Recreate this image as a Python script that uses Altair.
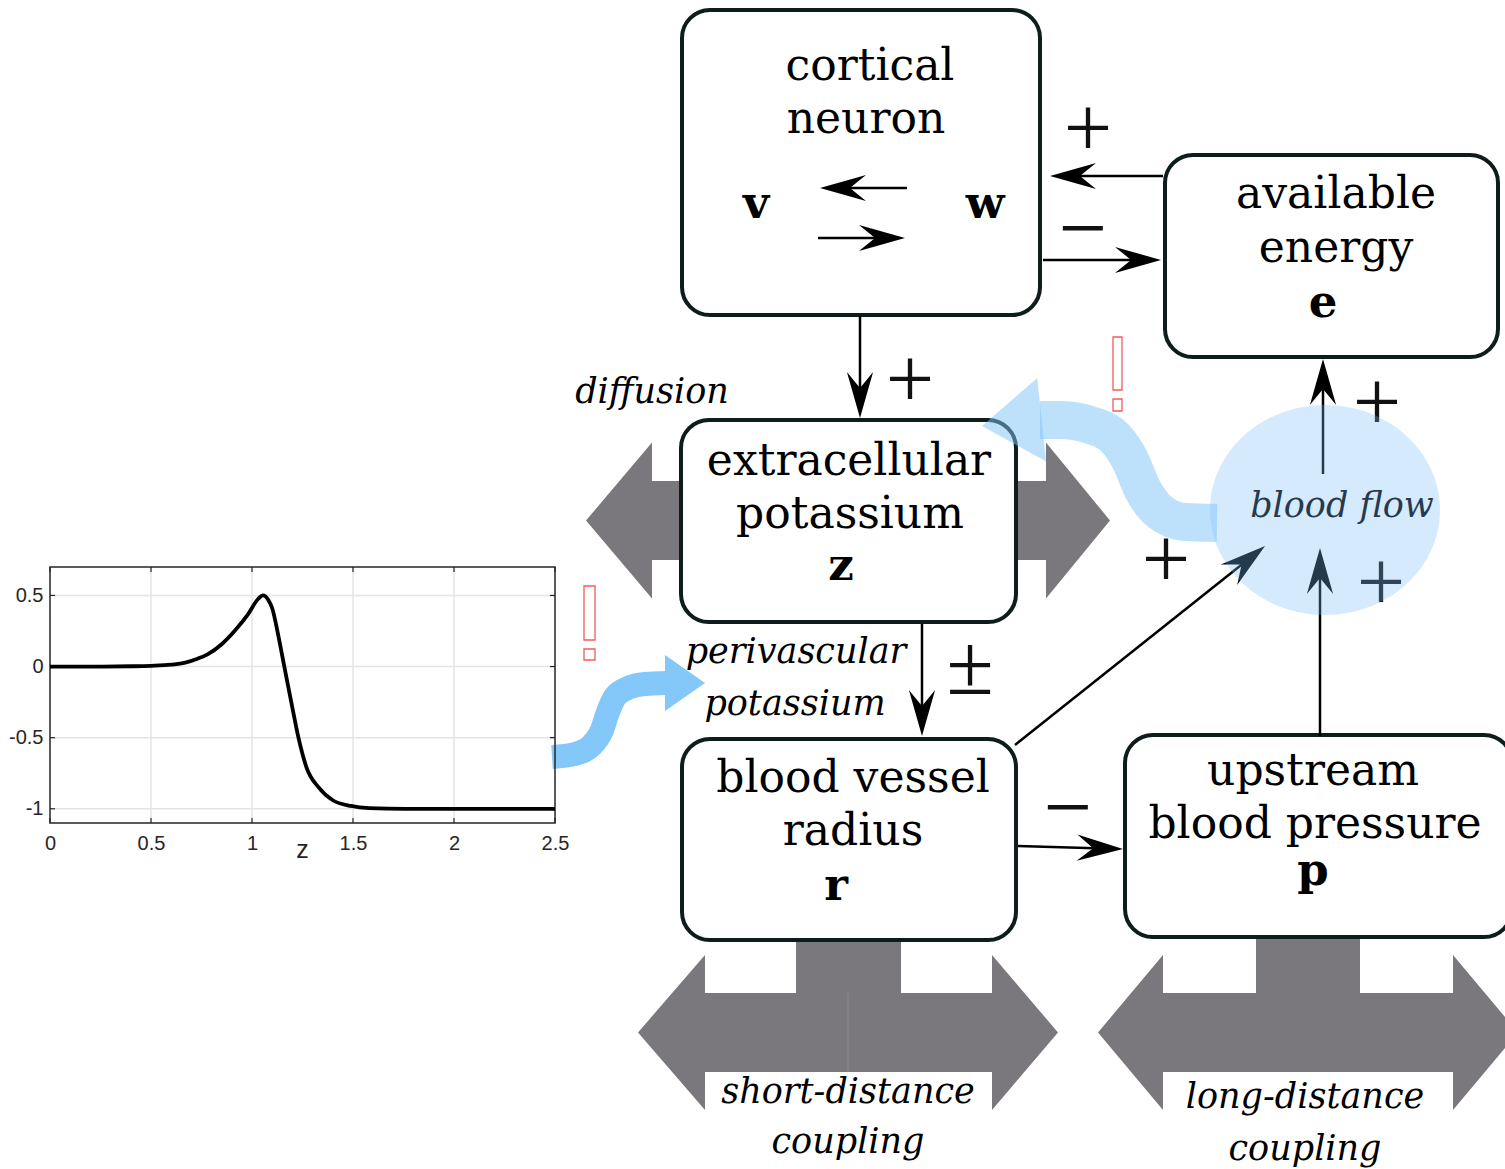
import math
import altair as alt
import pandas as pd

W, H = 1505, 1169

# ---------------- inset: response curve g(z) ----------------
z_vals = [0.0, 0.2, 0.4, 0.5, 0.6, 0.67, 0.73, 0.78, 0.85, 0.92, 0.98, 1.03, 1.055,
          1.08, 1.1, 1.13, 1.16, 1.2, 1.23, 1.27, 1.33, 1.4, 1.49, 1.58, 1.76, 2.0, 2.5]
g_vals = [0.0, 0.0, 0.002, 0.005, 0.013, 0.028, 0.055, 0.086, 0.157, 0.26, 0.367, 0.475, 0.5,
          0.47, 0.41, 0.22, 0.0, -0.29, -0.5, -0.71, -0.85, -0.94, -0.98, -0.995, -1.0, -1.0, -1.0]
z_ticks = [0, 0.5, 1, 1.5, 2, 2.5]
g_ticks = [-1, -0.5, 0, 0.5]
z_domain = [0, 2.5]
g_domain = [-1.1, 0.7]

# ---------------- diagram text ----------------
box_lines = ["cortical", "neuron", "available", "energy", "extracellular", "potassium",
             "blood vessel", "radius", "upstream", "blood pressure"]
state_vars = ["v", "w", "e", "z", "r", "p"]
italic_labels = ["diffusion", "perivascular", "potassium", "blood flow",
                 "short-distance", "coupling", "long-distance", "coupling"]
signs = ["+", "\u2212", "+", "\u00b1", "+", "+", "+", "\u2212"]

# ---------------- diagram geometry (pixels) ----------------
box_geom = [(682, 10, 1040, 315), (1165, 155, 1498, 357), (681, 420, 1016, 622),
            (682, 739, 1016, 940), (1125, 735, 1512, 937)]
box_line_pos = [(870, 80), (866, 133), (1336, 208), (1336, 262), (849, 475), (850, 528),
                (853, 792), (853, 845), (1313, 785), (1315, 838)]
var_pos = [(756, 218), (985, 218), (1323, 317), (841, 580), (836, 900), (1313, 885)]
italic_pos = [(652, 403), (796, 663), (795, 715), (1342, 517),
              (848, 1103), (848, 1153), (1305, 1108), (1305, 1160)]
sign_pos = [(1088, 131), (1083, 231), (910, 382), (970, 668),
            (1166, 562), (1381, 585), (1377, 405), (1068, 810)]
arrows = [(1163, 176, 1050, 176), (1043, 260, 1161, 260), (860, 316, 860, 418),
          (922, 624, 922, 736), (1015, 745, 1265, 546), (1320, 736, 1320, 548),
          (1323, 474, 1323, 359), (1018, 846, 1123, 849),
          (907, 188, 820, 188), (818, 238, 905, 238)]
# gray double arrows: tipL, baseL, baseR, tipR, y-centre, shaft half, head half
double_arrows = [(586, 652, 1046, 1110, 520.5, 39.5, 78),
                 (638, 705, 992, 1058, 1032.5, 39.5, 77.5),
                 (1098, 1163, 1453, 1518, 1032.5, 39.5, 77.5)]
stems = [(796, 940, 901, 994), (1256, 936, 1360, 994)]
band_path = [(1040, 420), (1060, 420), (1090, 425), (1115, 438), (1130, 460),
             (1143, 490), (1160, 512), (1185, 522), (1217, 523)]
wave_path = [(552, 757), (575, 754), (592, 745), (602, 730), (608, 712),
             (615, 697), (628, 688), (645, 684), (667, 683)]
alert_marks = [(1113, 337, 1122, 390), (1113, 399, 1122, 411),
               (584, 586, 595, 640), (584, 649, 595, 660)]

INK = "#0e1c1c"
GRAY = "#7a787c"
SERIF = "DejaVu Serif"

XS = alt.Scale(domain=[0, W], range=[0, W], nice=False, zero=False)
YS = alt.Scale(domain=[0, H], range=[0, H], nice=False, zero=False)


def px(f):
    return alt.X(f"{f}:Q", scale=XS, axis=None)


def py(f):
    return alt.Y(f"{f}:Q", scale=YS, axis=None)


HEAD = "M0,0 L-2,-0.57 L-1.3,0 L-2,0.57 Z"          # stealth arrow tip, pointing right
WEDGE = "M0,0 L-2,-1.4 L-2,1.4 Z"                   # broad triangular head
ELLIPSE = "M-1,0 A1,0.913 0 1,1 1,0 A1,0.913 0 1,1 -1,0 Z"

layers = []

# gray diffusion / coupling arrows
rows = []
for i, (tl, bl, br, tr, yc, sh, hh) in enumerate(double_arrows):
    pts = [(tl, yc, yc), (bl - 0.01, yc - hh, yc + hh), (bl, yc - sh, yc + sh),
           (br, yc - sh, yc + sh), (br + 0.01, yc - hh, yc + hh), (tr, yc, yc)]
    rows += [dict(id=i, x=a, y=b, y2=c) for a, b, c in pts]
layers.append(alt.Chart(pd.DataFrame(rows)).mark_area(orient="vertical", color=GRAY, opacity=1)
              .encode(x=px("x"), y=py("y"), y2="y2:Q", detail="id:N"))
layers.append(alt.Chart(pd.DataFrame(stems, columns=["x", "y", "x2", "y2"]))
              .mark_rect(color=GRAY).encode(x=px("x"), y=py("y"), x2="x2:Q", y2="y2:Q"))
layers.append(alt.Chart(pd.DataFrame([dict(x=848, y=993, y2=1072)]))
              .mark_rule(color="#8e8c8f", strokeWidth=1).encode(x=px("x"), y=py("y"), y2="y2:Q"))

# node boxes
layers.append(alt.Chart(pd.DataFrame(box_geom, columns=["x", "y", "x2", "y2"]))
              .mark_rect(cornerRadius=28, fill="white", stroke=INK, strokeWidth=4)
              .encode(x=px("x"), y=py("y"), x2="x2:Q", y2="y2:Q"))

# node text
df = pd.DataFrame(dict(x=[p[0] for p in box_line_pos], y=[p[1] for p in box_line_pos], t=box_lines))
layers.append(alt.Chart(df).mark_text(font=SERIF, fontSize=44, align="center", baseline="alphabetic",
                                      color="black").encode(x=px("x"), y=py("y"), text="t:N"))
df = pd.DataFrame(dict(x=[p[0] for p in var_pos], y=[p[1] for p in var_pos], t=state_vars))
layers.append(alt.Chart(df).mark_text(font=SERIF, fontSize=45, fontWeight="bold", align="center",
                                      baseline="alphabetic", color="black")
              .encode(x=px("x"), y=py("y"), text="t:N"))
df = pd.DataFrame(dict(x=[p[0] for p in italic_pos], y=[p[1] for p in italic_pos], t=italic_labels))
layers.append(alt.Chart(df).mark_text(font=SERIF, fontSize=35, fontStyle="italic", align="center",
                                      baseline="alphabetic", color="black")
              .encode(x=px("x"), y=py("y"), text="t:N"))
df = pd.DataFrame(dict(x=[p[0] for p in sign_pos], y=[p[1] for p in sign_pos], t=signs))
layers.append(alt.Chart(df).mark_text(font="Liberation Serif", fontSize=86, align="center",
                                      baseline="middle", color="#111111")
              .encode(x=px("x"), y=py("y"), text="t:N"))

# black arrows: shaft + stealth head
shafts, heads = [], []
for x1, y1, x2, y2 in arrows:
    dx, dy = x2 - x1, y2 - y1
    L = math.hypot(dx, dy)
    ux, uy = dx / L, dy / L
    shafts.append(dict(x=x1, y=y1, x2=x2 - 28 * ux, y2=y2 - 28 * uy))
    heads.append(dict(x=x2, y=y2, ang=math.degrees(math.atan2(dy, dx)) % 360))
layers.append(alt.Chart(pd.DataFrame(shafts)).mark_rule(color="black", strokeWidth=2.5)
              .encode(x=px("x"), y=py("y"), x2="x2:Q", y2="y2:Q"))
layers.append(alt.Chart(pd.DataFrame(heads))
              .mark_point(shape=HEAD, size=2116, filled=True, color="black", opacity=1, strokeWidth=0)
              .encode(x=px("x"), y=py("y"), angle=alt.Angle("ang:Q", scale=None)))

# translucent blood-flow node
layers.append(alt.Chart(pd.DataFrame([dict(x=1325, y=510)]))
              .mark_point(shape=ELLIPSE, size=52900, filled=True, color="#7bbbfc", opacity=0.31,
                          strokeWidth=0)
              .encode(x=px("x"), y=py("y")))

# wide feedback arrow from blood flow to extracellular potassium
layers.append(alt.Chart(pd.DataFrame(band_path, columns=["x", "y"]))
              .mark_line(color="#7dc4f7", opacity=0.5, strokeWidth=38, interpolate="monotone",
                         strokeCap="butt")
              .encode(x=px("x"), y=py("y")))
layers.append(alt.Chart(pd.DataFrame([dict(x=982, y=426, ang=174)]))
              .mark_point(shape=WEDGE, size=3600, filled=True, color="#7dc4f7", opacity=0.5,
                          strokeWidth=0)
              .encode(x=px("x"), y=py("y"), angle=alt.Angle("ang:Q", scale=None)))

# arrow from the inset to perivascular potassium
layers.append(alt.Chart(pd.DataFrame(wave_path, columns=["x", "y"]))
              .mark_line(color="#84c8f9", strokeWidth=24, interpolate="monotone", strokeCap="butt")
              .encode(x=px("x"), y=py("y")))
layers.append(alt.Chart(pd.DataFrame([dict(x=705, y=683, ang=0)]))
              .mark_point(shape=WEDGE, size=1600, filled=True, color="#84c8f9", opacity=1,
                          strokeWidth=0)
              .encode(x=px("x"), y=py("y"), angle=alt.Angle("ang:Q", scale=None)))

# red markers
layers.append(alt.Chart(pd.DataFrame(alert_marks, columns=["x", "y", "x2", "y2"]))
              .mark_rect(fillOpacity=0, stroke="#f25c5c", strokeWidth=1.3)
              .encode(x=px("x"), y=py("y"), x2="x2:Q", y2="y2:Q"))

diagram = alt.layer(*layers)

# ---------------- inset plot with its own scales ----------------
XP = alt.Scale(domain=z_domain, range=[50, 555], nice=False, zero=False)
YP = alt.Scale(domain=g_domain, range=[823, 567], nice=False, zero=False)
DARK = "#262626"

AX = alt.Axis(
    orient="bottom", offset=-(H - 823), values=z_ticks, grid=False, ticks=False, tickSize=0,
    domain=False, labelFont="Liberation Sans", labelFontSize=20, labelColor=DARK,
    labelPadding=10, labelFlush=False, labelOverlap=False, labelExpr="'' + datum.value",
    title="z", titleFont="Liberation Sans", titleFontSize=25, titleFontWeight="normal",
    titleColor=DARK, titleX=302, titleY=26, titleBaseline="middle")
AY = alt.Axis(
    orient="left", offset=-50, values=g_ticks, grid=False, ticks=False, tickSize=0,
    domain=False, labelFont="Liberation Sans", labelFontSize=20, labelColor=DARK,
    labelPadding=7, labelOverlap=False, labelExpr="'' + datum.value", title="")


def ix(f):
    return alt.X(f"{f}:Q", scale=XP, axis=AX)


def iy(f):
    return alt.Y(f"{f}:Q", scale=YP, axis=AY)


gx = pd.DataFrame(dict(z=z_ticks[1:-1], lo=g_domain[0], hi=g_domain[1]))
gy = pd.DataFrame(dict(g=g_ticks, lo=z_domain[0], hi=z_domain[1]))
grid_v = alt.Chart(gx).mark_rule(color="#e4e4e4", strokeWidth=1.5).encode(
    x=ix("z"), y=iy("lo"), y2="hi:Q")
grid_h = alt.Chart(gy).mark_rule(color="#e4e4e4", strokeWidth=1.5).encode(
    y=iy("g"), x=ix("lo"), x2="hi:Q")

tick_rows = []
for z in z_ticks:
    tick_rows.append(dict(x=z, x2=z, y=g_domain[0], y2=g_domain[0] + 0.035))
    tick_rows.append(dict(x=z, x2=z, y=g_domain[1] - 0.035, y2=g_domain[1]))
for g in g_ticks:
    tick_rows.append(dict(x=z_domain[0], x2=z_domain[0] + 0.025, y=g, y2=g))
    tick_rows.append(dict(x=z_domain[1] - 0.025, x2=z_domain[1], y=g, y2=g))
ticks = alt.Chart(pd.DataFrame(tick_rows)).mark_rule(color=DARK, strokeWidth=1.2).encode(
    x=ix("x"), x2="x2:Q", y=iy("y"), y2="y2:Q")

frame = alt.Chart(pd.DataFrame([dict(x=z_domain[0], x2=z_domain[1], y=g_domain[0], y2=g_domain[1])])) \
    .mark_rect(fillOpacity=0, stroke=DARK, strokeWidth=1.5).encode(
        x=ix("x"), x2="x2:Q", y=iy("y"), y2="y2:Q")

curve = alt.Chart(pd.DataFrame(dict(z=z_vals, g=g_vals))).mark_line(
    color="black", strokeWidth=3.8, interpolate="monotone").encode(x=ix("z"), y=iy("g"))

inset = alt.layer(grid_v, grid_h, frame, ticks, curve)

chart = alt.layer(diagram, inset).resolve_scale(x="independent", y="independent").properties(
    width=W, height=H, padding=0, autosize=alt.AutoSizeParams(type="none"), background="white"
).configure_view(stroke=None)

chart.save("out.html", embed_options={"renderer": "svg", "actions": False})
